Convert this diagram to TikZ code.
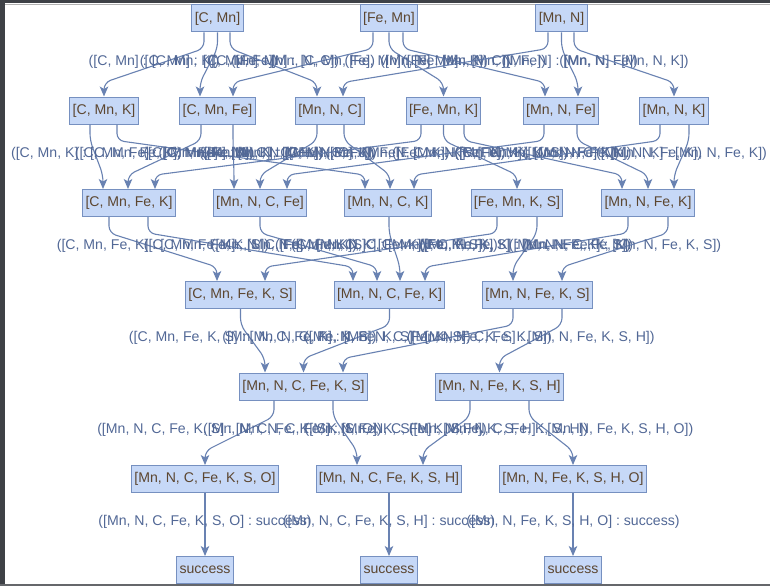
\documentclass[tikz,border=0pt]{standalone}
\usepackage{fontspec}
\setmainfont{Liberation Sans}
\usetikzlibrary{calc,arrows.meta}
\definecolor{nodefill}{RGB}{198,216,247}
\definecolor{nodeborder}{RGB}{118,144,192}
\definecolor{nodetext}{RGB}{92,70,48}
\definecolor{edgecol}{RGB}{105,130,178}
\definecolor{lbltext}{RGB}{82,104,150}
\definecolor{framedark}{RGB}{62,65,70}
\tikzset{
  box/.style={draw=nodeborder, fill=nodefill, text=nodetext, line width=1pt,
    font=\fontsize{14.1}{16}\selectfont, minimum height=27pt, inner xsep=2.8pt, inner ysep=0pt},
  edge/.style={draw=edgecol, line width=1.1pt, rounded corners=7pt,
    -{Stealth[length=10pt,width=8.5pt,inset=2.5pt]}},
  lbl/.style={text=lbltext, font=\fontsize{14.1}{16}\selectfont, inner sep=0pt}
}
\newcommand\edg[5]{%
  \coordinate (s) at ($(#1.south)+(#2,0)$);
  \coordinate (t) at ($(#3.north)+(#4,0)$);
  \draw[edge] (s) -- ++(0,16) -- ($(t)+(0,-14)$) -- (t);
  \node[lbl] at ($(s)!0.5!(t)+(0,-3)$) {#5};
}
\begin{document}
\begin{tikzpicture}[x=1pt,y=-1pt]
\useasboundingbox (0,0) rectangle (770,586);
\fill[white] (0,0) rectangle (770,586);
\fill[framedark] (0,0) rectangle (770,3.5);
\draw[gray!60, line width=0.8pt] (0,4.2) -- (770,4.2);
\fill[framedark] (0,0) rectangle (5,586);
\fill[framedark!80] (0,584) rectangle (770,586);
% row 0
\node[box] (CMn) at (217.5,18.5) {[C, Mn]};
\node[box] (FeMn) at (389,18.5) {[Fe, Mn]};
\node[box] (MnN) at (561.5,18.5) {[Mn, N]};
% row 1
\node[box] (CMnK) at (104,110.5) {[C, Mn, K]};
\node[box] (CMnFe) at (217.5,110.5) {[C, Mn, Fe]};
\node[box] (MnNC) at (330,110.5) {[Mn, N, C]};
\node[box] (FeMnK) at (443.5,110.5) {[Fe, Mn, K]};
\node[box] (MnNFe) at (561,110.5) {[Mn, N, Fe]};
\node[box] (MnNK) at (674,110.5) {[Mn, N, K]};
% row 2
\node[box] (CMnFeK) at (129,203) {[C, Mn, Fe, K]};
\node[box] (MnNCFe) at (260,203) {[Mn, N, C, Fe]};
\node[box] (MnNCK) at (388,203) {[Mn, N, C, K]};
\node[box] (FeMnKS) at (517,203) {[Fe, Mn, K, S]};
\node[box] (MnNFeK) at (648,203) {[Mn, N, Fe, K]};
% row 3
\node[box] (CMnFeKS) at (240.5,295) {[C, Mn, Fe, K, S]};
\node[box] (MnNCFeK) at (389.5,295) {[Mn, N, C, Fe, K]};
\node[box] (MnNFeKS) at (537.5,295) {[Mn, N, Fe, K, S]};
% row 4
\node[box] (MnNCFeKS) at (303.5,386.5) {[Mn, N, C, Fe, K, S]};
\node[box] (MnNFeKSH) at (499.5,386.5) {[Mn, N, Fe, K, S, H]};
% row 5
\node[box] (MnNCFeKSO) at (205,479) {[Mn, N, C, Fe, K, S, O]};
\node[box] (MnNCFeKSH) at (389,479) {[Mn, N, C, Fe, K, S, H]};
\node[box] (MnNFeKSHO) at (573,479) {[Mn, N, Fe, K, S, H, O]};
% row 6
\node[box] (s1) at (205,570) {success};
\node[box] (s2) at (389,570) {success};
\node[box] (s3) at (573,570) {success};
% edges row 0 -> 1
\edg{CMn}{-13.5}{CMnK}{0}{([C, Mn] : [C, Mn, K])}
\edg{CMn}{0}{CMnFe}{-17.5}{([C, Mn] : [C, Mn, Fe])}
\edg{CMn}{12.5}{MnNC}{-13}{([C, Mn] : [Mn, N, C])}
\edg{FeMn}{-16}{CMnFe}{15.5}{([Fe, Mn] : [C, Mn, Fe])}
\edg{FeMn}{0}{FeMnK}{0}{([Fe, Mn] : [Fe, Mn, K])}
\edg{FeMn}{14}{MnNFe}{-16}{([Fe, Mn] : [Mn, N, Fe])}
\edg{MnN}{-13.5}{MnNC}{13}{([Mn, N] : [Mn, N, C])}
\edg{MnN}{0}{MnNFe}{17}{([Mn, N] : [Mn, N, Fe])}
\edg{MnN}{12.5}{MnNK}{0}{([Mn, N] : [Mn, N, K])}
% edges row 1 -> 2
\edg{CMnK}{-14}{CMnFeK}{-26}{([C, Mn, K] : [C, Mn, Fe, K])}
\edg{CMnK}{13}{MnNCK}{-23}{([C, Mn, K] : [Mn, N, C, K])}
\edg{CMnFe}{-16.5}{CMnFeK}{-1}{([C, Mn, Fe] : [C, Mn, Fe, K])}
\edg{CMnFe}{15.5}{MnNCFe}{-26}{([C, Mn, Fe] : [Mn, N, C, Fe])}
\edg{MnNC}{-13}{MnNCFe}{0}{([Mn, N, C] : [Mn, N, C, Fe])}
\edg{MnNC}{14}{MnNCK}{2}{([Mn, N, C] : [Mn, N, C, K])}
\edg{FeMnK}{-22.5}{CMnFeK}{26}{([Fe, Mn, K] : [C, Mn, Fe, K])}
\edg{FeMnK}{0}{FeMnKS}{0}{([Fe, Mn, K] : [Fe, Mn, K, S])}
\edg{FeMnK}{20.5}{MnNFeK}{-26}{([Fe, Mn, K] : [Mn, N, Fe, K])}
\edg{MnNFe}{-17}{MnNCFe}{27}{([Mn, N, Fe] : [Mn, N, C, Fe])}
\edg{MnNFe}{16}{MnNFeK}{0}{([Mn, N, Fe] : [Mn, N, Fe, K])}
\edg{MnNK}{-14}{MnNCK}{26}{([Mn, N, K] : [Mn, N, C, K])}
\edg{MnNK}{15}{MnNFeK}{26}{([Mn, N, K] : [Mn, N, Fe, K])}
% edges row 2 -> 3
\edg{CMnFeK}{-20}{CMnFeKS}{-23.5}{([C, Mn, Fe, K] : [C, Mn, Fe, K, S])}
\edg{CMnFeK}{19}{MnNCFeK}{-36.5}{([C, Mn, Fe, K] : [Mn, N, C, Fe, K])}
\edg{MnNCFe}{0}{MnNCFeK}{-12.5}{([Mn, N, C, Fe] : [Mn, N, C, Fe, K])}
\edg{MnNCK}{1}{MnNCFeK}{10.5}{([Mn, N, C, K] : [Mn, N, C, Fe, K])}
\edg{FeMnKS}{-20}{CMnFeKS}{24.5}{([Fe, Mn, K, S] : [C, Mn, Fe, K, S])}
\edg{FeMnKS}{20}{MnNFeKS}{-24.5}{([Fe, Mn, K, S] : [Mn, N, Fe, K, S])}
\edg{MnNFeK}{-20}{MnNCFeK}{35.5}{([Mn, N, Fe, K] : [Mn, N, C, Fe, K])}
\edg{MnNFeK}{20}{MnNFeKS}{24.5}{([Mn, N, Fe, K] : [Mn, N, Fe, K, S])}
% edges row 3 -> 4
\edg{CMnFeKS}{0}{MnNCFeKS}{-38.5}{([C, Mn, Fe, K, S] : [Mn, N, C, Fe, K, S])}
\edg{MnNCFeK}{0}{MnNCFeKS}{0}{([Mn, N, C, Fe, K] : [Mn, N, C, Fe, K, S])}
\edg{MnNFeKS}{-24.5}{MnNCFeKS}{39.5}{([Mn, N, Fe, K, S] : [Mn, N, C, Fe, K, S])}
\edg{MnNFeKS}{24.5}{MnNFeKSH}{0}{([Mn, N, Fe, K, S] : [Mn, N, Fe, K, S, H])}
% edges row 4 -> 5
\edg{MnNCFeKS}{-29.5}{MnNCFeKSO}{0}{([Mn, N, C, Fe, K, S] : [Mn, N, C, Fe, K, S, O])}
\edg{MnNCFeKS}{29.5}{MnNCFeKSH}{-32}{([Mn, N, C, Fe, K, S] : [Mn, N, C, Fe, K, S, H])}
\edg{MnNFeKSH}{-29.5}{MnNCFeKSH}{34}{([Mn, N, Fe, K, S, H] : [Mn, N, C, Fe, K, S, H])}
\edg{MnNFeKSH}{29.5}{MnNFeKSHO}{0}{([Mn, N, Fe, K, S, H] : [Mn, N, Fe, K, S, H, O])}
% edges row 5 -> 6
\edg{MnNCFeKSO}{0}{s1}{0}{([Mn, N, C, Fe, K, S, O] : success)}
\edg{MnNCFeKSH}{0}{s2}{0}{([Mn, N, C, Fe, K, S, H] : success)}
\edg{MnNFeKSHO}{0}{s3}{0}{([Mn, N, Fe, K, S, H, O] : success)}
\end{tikzpicture}
\end{document}
